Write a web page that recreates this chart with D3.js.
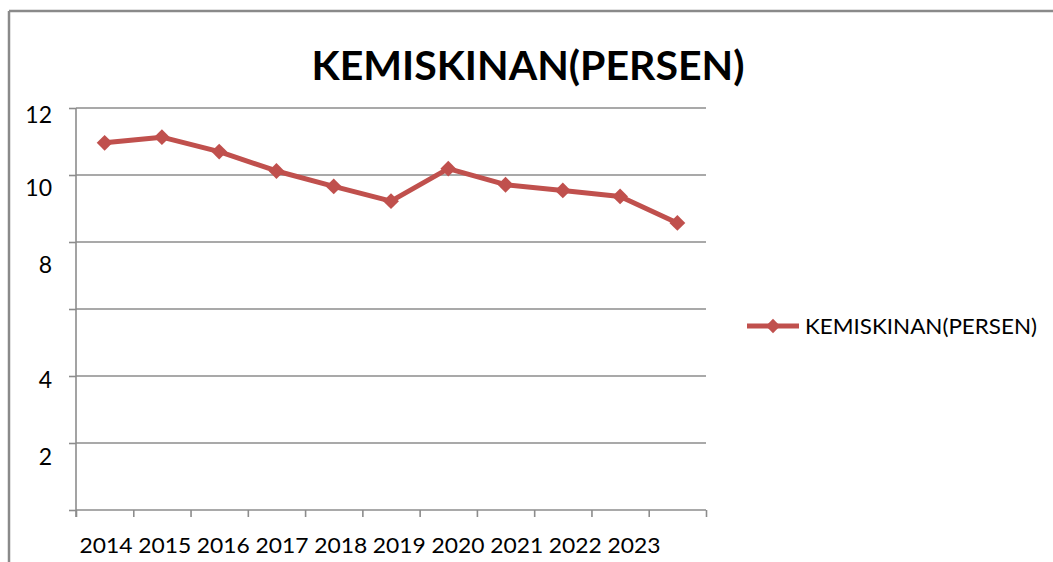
<!DOCTYPE html>
<html>
<head>
<meta charset="utf-8">
<script src="https://cdn.jsdelivr.net/npm/d3@7"></script>
<style>
  body { margin: 0; background: #fff; }
  text { font-family: Lato, "Open Sans", sans-serif; fill: #000; }
</style>
</head>
<body>
<svg width="1053" height="562"></svg>
<script>
// data
var years = ["2014","2015","2016","2017","2018","2019","2020","2021","2022","2023","2024"];
var yearLabels = ["2014","2015","2016","2017","2018","2019","2020","2021","2022","2023",""];
var kemiskinan = [10.96, 11.13, 10.70, 10.12, 9.66, 9.22, 10.19, 9.71, 9.54, 9.36, 8.57];
var yTicks = [0, 2, 4, 6, 8, 10, 12];
var yTickLabels = ["", "2", "4", "", "8", "10", "12"];
var seriesName = "KEMISKINAN(PERSEN)";

var svg = d3.select("svg"),
  width = +svg.attr("width"),
  height = +svg.attr("height");

var red = "#c0504d",
  grid = "#8c8c8c";

// plot area ("top" is taken by window.top, so use other names)
var pLeft = 76, pRight = 706, pTop = 108, pBottom = 510;

// chart frame (only top + left visible in the reference)
svg.append("line").attr("x1", 9).attr("x2", width).attr("y1", 11).attr("y2", 11)
  .attr("stroke", "#8a8a8a").attr("stroke-width", 2.5);
svg.append("line").attr("x1", 9).attr("x2", 9).attr("y1", 11).attr("y2", height)
  .attr("stroke", "#8a8a8a").attr("stroke-width", 2.5);

// title
svg.append("text")
  .attr("x", 528).attr("y", 80)
  .attr("text-anchor", "middle")
  .attr("font-size", 40).attr("font-weight", "bold")
  .attr("textLength", 433).attr("lengthAdjust", "spacingAndGlyphs")
  .text(seriesName);

var x = d3.scaleBand().domain(years).range([pLeft, pRight]);
var y = d3.scaleLinear().domain([0, 12]).range([pBottom, pTop]);

// gridlines
svg.append("g")
  .selectAll("line")
  .data(yTicks.filter(function(d) { return d > 0; }))
  .enter().append("line")
    .attr("x1", pLeft).attr("x2", pRight)
    .attr("y1", function(d) { return y(d); })
    .attr("y2", function(d) { return y(d); })
    .attr("stroke", grid).attr("stroke-width", 1.6);

// y axis
var yAxis = svg.append("g")
  .attr("transform", "translate(" + pLeft + ",0)")
  .call(d3.axisLeft(y).tickValues(yTicks).tickSize(7).tickPadding(17)
    .tickFormat(function(d, i) { return yTickLabels[i]; }));
yAxis.select(".domain").attr("stroke", grid).attr("stroke-width", 1.6)
  .attr("d", "M0," + pTop + "V" + (pBottom + 7));
yAxis.selectAll(".tick line").attr("stroke", grid).attr("stroke-width", 1.6);
// the labels in the reference sit a little below their gridlines, unevenly
var labelShift = [0, 13, 3, 0, 22, 12, 6];
yAxis.selectAll(".tick text")
  .attr("font-size", 23).attr("font-family", "Lato, sans-serif")
  .attr("fill", "#000")
  .attr("dy", function(d, i) { return (labelShift[i] + 8) + "px"; });

// x axis
var xAxis = svg.append("g")
  .attr("transform", "translate(0," + pBottom + ")")
  .call(d3.axisBottom(d3.scaleLinear().domain([0, years.length]).range([pLeft, pRight]))
    .tickValues(d3.range(years.length + 1)).tickSize(7).tickFormat(""));
xAxis.select(".domain").attr("stroke", grid).attr("stroke-width", 1.6)
  .attr("d", "M" + pLeft + ",0H" + pRight);
xAxis.selectAll(".tick line").attr("stroke", grid).attr("stroke-width", 1.6);

// year labels run a bit wider than the categories, as in the reference
var xl = d3.scalePoint().domain(years.slice(0, 10)).range([106, 634]);
svg.append("g")
  .selectAll("text")
  .data(yearLabels.filter(function(d) { return d !== ""; }))
  .enter().append("text")
    .attr("x", function(d) { return xl(d); })
    .attr("y", 553)
    .attr("text-anchor", "middle")
    .attr("font-size", 22)
    .attr("textLength", 53).attr("lengthAdjust", "spacingAndGlyphs")
    .text(function(d) { return d; });

// series line
var line = d3.line()
  .x(function(d, i) { return x(years[i]) + x.bandwidth() / 2; })
  .y(function(d) { return y(d); });

svg.append("path")
  .datum(kemiskinan)
  .attr("d", line)
  .attr("fill", "none")
  .attr("stroke", red)
  .attr("stroke-width", 5)
  .attr("stroke-linejoin", "round");

var diamond = d3.symbol().type(d3.symbolDiamond2).size(160);

svg.append("g")
  .selectAll("path")
  .data(kemiskinan)
  .enter().append("path")
    .attr("d", diamond)
    .attr("transform", function(d, i) {
      return "translate(" + (x(years[i]) + x.bandwidth() / 2) + "," + y(d) + ")";
    })
    .attr("fill", red);

// legend
var lg = svg.append("g").attr("transform", "translate(747,326)");
lg.append("line").attr("x1", 0).attr("x2", 52).attr("y1", 0).attr("y2", 0)
  .attr("stroke", red).attr("stroke-width", 5);
lg.append("path").attr("d", d3.symbol().type(d3.symbolDiamond2).size(130))
  .attr("transform", "translate(26,0)").attr("fill", red);
lg.append("text")
  .attr("x", 58).attr("y", 8)
  .attr("font-size", 21)
  .attr("textLength", 232).attr("lengthAdjust", "spacingAndGlyphs")
  .text(seriesName);
</script>
</body>
</html>
